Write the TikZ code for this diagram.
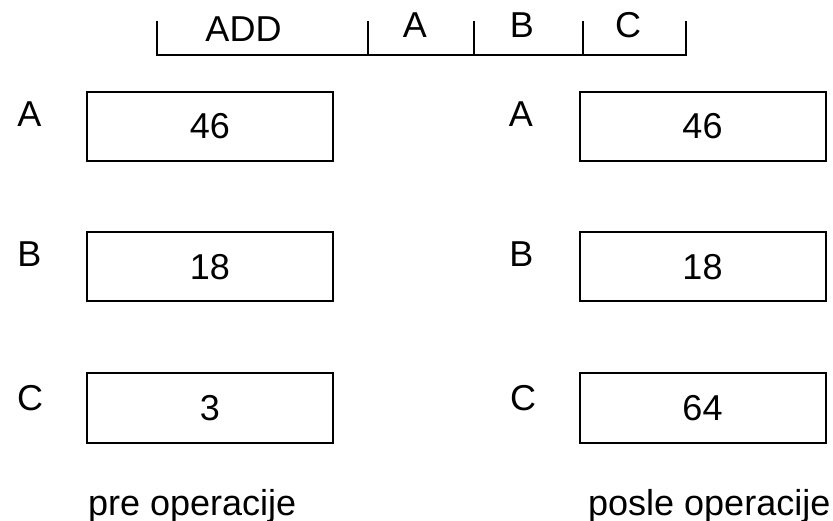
\documentclass[tikz,border=0pt]{standalone}
\usepackage{fontspec}
\setmainfont{Liberation Sans}
\begin{document}
\begin{tikzpicture}[x=1pt,y=-1pt,
  reg/.style={draw, line width=2pt, minimum width=246pt, minimum height=69pt, inner sep=0pt,
              font=\fontsize{36}{40}\selectfont},
  txt/.style={font=\fontsize{36}{40}\selectfont, inner sep=0pt, anchor=base},
  bracket/.style={line width=2pt}]
\useasboundingbox (0,0) rectangle (833,521);
% instruction format
\foreach \i/\x in {0/157,1/368,2/474,3/583,4/686}{
  \coordinate (t\i) at (\x,21);
  \coordinate (b\i) at (\x,55);
}
\draw[bracket] (t0) -- (b0) -- (b4) -- (t4);
\draw[bracket] (t1) -- (b1);
\draw[bracket] (t2) -- (b2);
\draw[bracket] (t3) -- (b3);
\node[txt] (add) at (243.5,42) {ADD};
\node[txt] (fa) at (415,38) {A};
\node[txt] (fb) at (522,38) {B};
\node[txt] (fc) at (628,38) {C};
% registers before
\node[reg] (la) at (210,126.5) {46};
\node[reg] (lb) at (210,267) {18};
\node[reg] (lc) at (210,408) {3};
\node[txt] (lla) at (29.5,127) {A};
\node[txt] (llb) at (29.5,267) {B};
\node[txt] (llc) at (30,410) {C};
% registers after
\node[reg] (ra) at (702.5,126.5) {46};
\node[reg] (rb) at (702.5,267) {18};
\node[reg] (rc) at (702.5,408) {64};
\node[txt] (rla) at (521,127) {A};
\node[txt] (rlb) at (521.5,267) {B};
\node[txt] (rlc) at (523,410) {C};
% captions
\node[txt, anchor=base west] (pre) at (88,515) {pre operacije};
\node[txt, anchor=base west] (posle) at (588,515) {posle operacije};
\end{tikzpicture}
\end{document}
